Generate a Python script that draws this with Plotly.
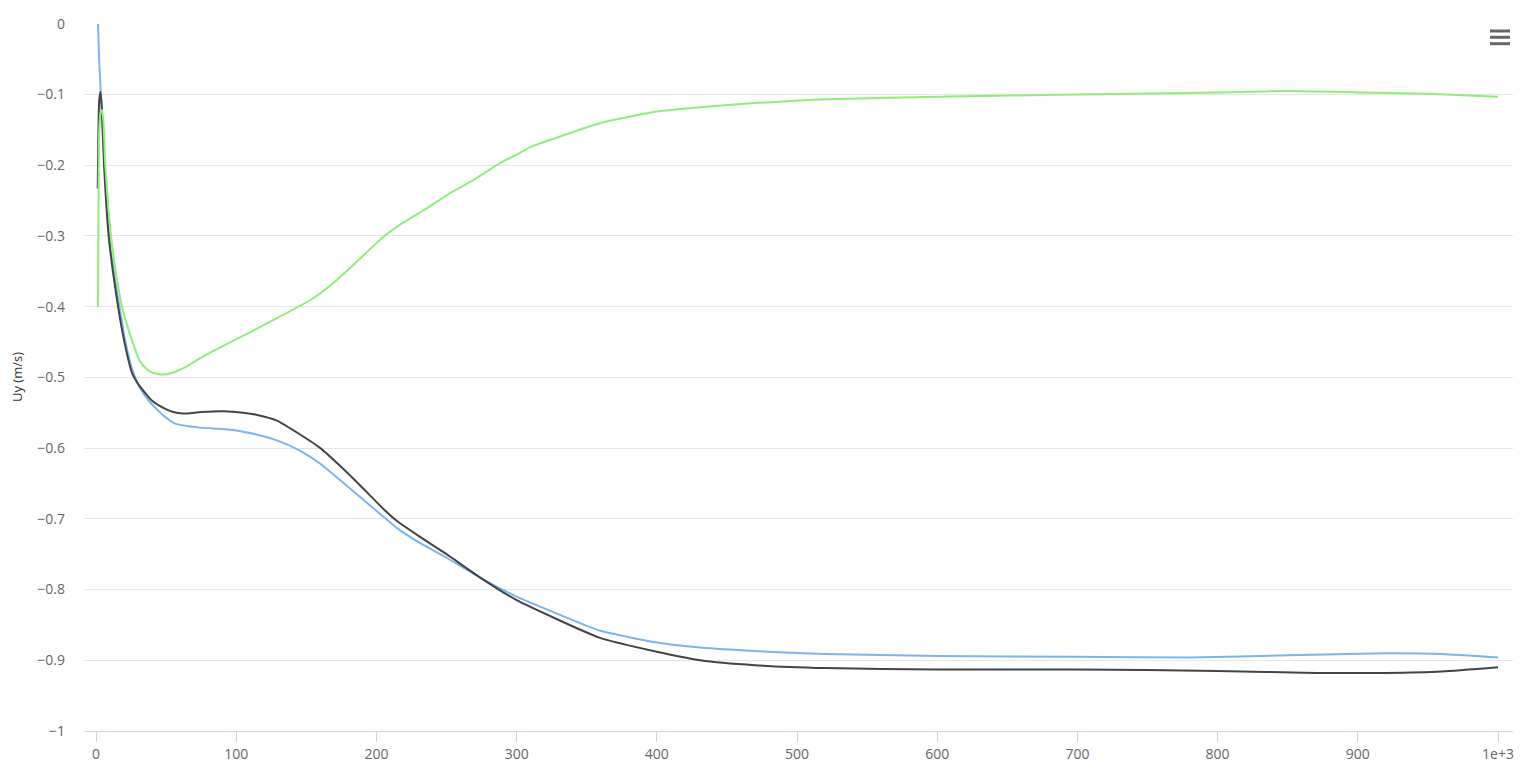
import plotly.graph_objects as go

# ---- data ----
blue_t = [1.4, 2.3, 3.5, 6.1, 9.3, 13, 16.7, 21, 26, 31, 37.6, 48, 56, 74, 90, 103, 115, 129, 145,
          160, 174, 190, 205, 214, 230, 250, 274, 300, 330, 359, 400, 431, 470, 520, 600, 700,
          780, 850, 920, 960, 1000]
blue_uy = [0.0, -0.056, -0.1, -0.2, -0.3, -0.355, -0.4, -0.45, -0.49, -0.514, -0.533, -0.554,
           -0.565, -0.571, -0.573, -0.576, -0.581, -0.589, -0.603, -0.622, -0.645, -0.672,
           -0.697, -0.712, -0.733, -0.755, -0.783, -0.81, -0.835, -0.858, -0.875, -0.882,
           -0.887, -0.891, -0.894, -0.895, -0.896, -0.893, -0.890, -0.891, -0.896]

black_t = [1.2, 2.2, 3.1, 4.0, 5.7, 9, 12, 15.7, 20, 25.7, 31, 40, 48, 55, 62, 75, 91, 105, 115,
           129, 145, 160, 174, 190, 205, 214, 230, 250, 274, 300, 330, 359, 400, 431, 470, 520,
           600, 700, 800, 870, 920, 960, 1000]
black_uy = [-0.233, -0.11, -0.096, -0.115, -0.2, -0.3, -0.35, -0.4, -0.448, -0.494, -0.512,
            -0.533, -0.543, -0.549, -0.551, -0.549, -0.548, -0.55, -0.553, -0.561, -0.58, -0.6,
            -0.625, -0.656, -0.686, -0.702, -0.724, -0.75, -0.783, -0.815, -0.843, -0.868,
            -0.888, -0.9, -0.907, -0.911, -0.913, -0.913, -0.915, -0.918, -0.918, -0.916, -0.91]

green_t = [1.4, 2.3, 3.3, 4.3, 5.3, 6.6, 10.7, 14, 18.5, 25.7, 31, 36, 40, 47, 55, 65, 75, 90, 110,
           133, 155, 167, 179, 192, 205, 217, 235, 252, 270, 288, 300, 310, 330, 355, 364, 400,
           431, 470, 515, 600, 700, 800, 850, 900, 950, 1000]
green_uy = [-0.4, -0.15, -0.125, -0.122, -0.14, -0.2, -0.3, -0.35, -0.4, -0.448, -0.476, -0.488,
            -0.493, -0.496, -0.493, -0.484, -0.472, -0.456, -0.436, -0.412, -0.388, -0.37,
            -0.349, -0.325, -0.301, -0.284, -0.262, -0.24, -0.22, -0.197, -0.185, -0.174, -0.16,
            -0.143, -0.138, -0.124, -0.118, -0.112, -0.107, -0.103, -0.1, -0.097, -0.095,
            -0.097, -0.099, -0.103]

x_tickvals = [0, 100, 200, 300, 400, 500, 600, 700, 800, 900, 1000]
x_ticktext = ["0", "100", "200", "300", "400", "500", "600", "700", "800", "900", "1e+3"]
y_tickvals = [0, -0.1, -0.2, -0.3, -0.4, -0.5, -0.6, -0.7, -0.8, -0.9, -1]
y_ticktext = ["0", "\u22120.1", "\u22120.2", "\u22120.3", "\u22120.4", "\u22120.5", "\u22120.6",
              "\u22120.7", "\u22120.8", "\u22120.9", "\u22121"]

series = [
    ("Series 1", blue_t, blue_uy, "#7cb5ec"),
    ("Series 2", black_t, black_uy, "#434348"),
    ("Series 3", green_t, green_uy, "#90ed7d"),
]

FONT = "Open Sans, Noto Sans, sans-serif"

fig = go.Figure()
for name, t, v, c in series:
    fig.add_trace(go.Scatter(
        x=t, y=v, mode="lines", name=name, showlegend=False, hoverinfo="skip",
        line=dict(color=c, width=2, shape="spline", smoothing=0.5),
    ))

# page body has an 8px margin, so the figure is offset by 8px; margins compensate
fig.update_layout(
    width=1532, height=770,
    margin=dict(l=76, r=27, t=15, b=47, autoexpand=False),
    paper_bgcolor="white", plot_bgcolor="white",
    font=dict(family=FONT, size=14, color="#666666"),
    hovermode=False,
)
fig.update_xaxes(
    range=[-8.6, 1010.7], tickvals=x_tickvals, ticktext=x_ticktext,
    showgrid=False, zeroline=False, automargin=False,
    showline=True, linecolor="#ccd6eb", linewidth=1,
    ticks="outside", ticklen=10, tickcolor="#ccd6eb", tickwidth=1,
    tickfont=dict(family=FONT, size=14, color="#666666"),
)
fig.update_yaxes(
    range=[-1, 0.0012], tickvals=y_tickvals, ticktext=y_ticktext,
    showgrid=True, gridcolor="#e6e6e6", gridwidth=1, zeroline=False, automargin=False,
    showline=False, ticks="", ticklabelstandoff=18,
    tickfont=dict(family=FONT, size=14, color="#666666"),
)

fig.add_annotation(text="Uy (m/s)", xref="paper", yref="paper", x=0, y=0.5,
                   xanchor="center", yanchor="middle", xshift=-67, textangle=-90,
                   showarrow=False, font=dict(family=FONT, size=13, color="#333333"))
fig.add_annotation(text="Time (s)", xref="paper", yref="paper", x=0.5, y=0,
                   xanchor="center", yanchor="top", yshift=-33,
                   showarrow=False, font=dict(family=FONT, size=13, color="#333333"))

# export-menu (hamburger) icon
for yy in [0.9887, 0.9798, 0.9708]:
    fig.add_shape(type="line", xref="paper", yref="paper", x0=0.9839, x1=0.9979, y0=yy, y1=yy,
                  line=dict(color="#666666", width=3))

fig.write_html("out.html", config={"displayModeBar": False})
